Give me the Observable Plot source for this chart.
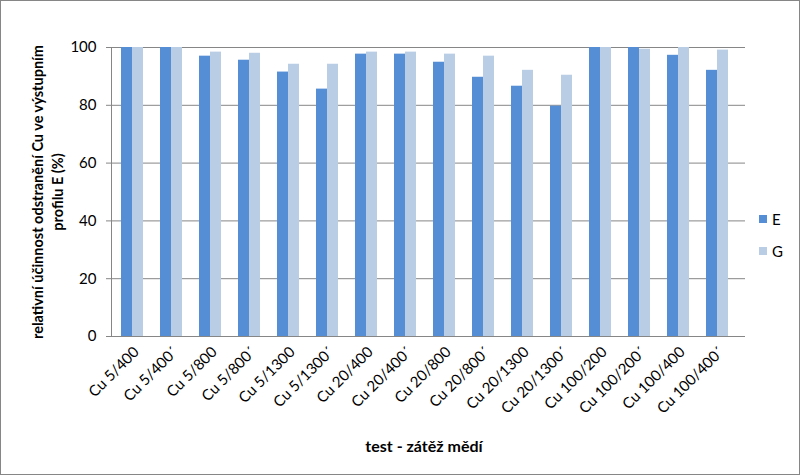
<!DOCTYPE html>
<html><head><meta charset="utf-8">
<script src="https://cdn.jsdelivr.net/npm/d3@7"></script>
<script src="https://cdn.jsdelivr.net/npm/@observablehq/plot@0.6"></script>
<style>
body{margin:0;background:#fff;}
#wrap{position:relative;width:800px;height:475px;font-family:Lato,"Open Sans",sans-serif;overflow:hidden;background:#fff}
#border{position:absolute;left:0;top:0;width:800px;height:475px;box-sizing:border-box;border:1px solid #868686;pointer-events:none}
#ytitle{position:absolute;left:-102px;top:172px;width:300px;text-align:center;font-weight:bold;font-size:14.5px;line-height:20px;transform:rotate(-90deg);color:#000}
#xtitle{position:absolute;left:224px;width:400px;top:436px;text-align:center;font-weight:bold;font-size:16px;color:#000}
.leg{position:absolute;left:759px;font-size:15px;color:#000;display:flex;align-items:center;gap:5px}
.sw{width:8px;height:8px;display:inline-block}
</style></head><body>
<div id="wrap">
<div id="chart"></div>
<div id="ytitle">relativní účinnost odstranění Cu ve výstupním<br>profilu E (%)</div>
<div id="xtitle">test - zátěž mědí</div>
<div id="legend"></div>
<div id="border"></div>
</div>
<script>
const categories = ["Cu 5/400","Cu 5/400´","Cu 5/800","Cu 5/800´","Cu 5/1300","Cu 5/1300´","Cu 20/400","Cu 20/400´","Cu 20/800","Cu 20/800´","Cu 20/1300","Cu 20/1300´","Cu 100/200","Cu 100/200´","Cu 100/400","Cu 100/400´"];
const seriesNames = ["E","G"];
const seriesColors = ["#558ED5","#B9CDE5"];
const valuesE = [100,100,97.0,95.6,91.5,85.6,97.7,97.7,94.9,89.7,86.6,79.7,100,100,97.3,92.1];
const valuesG = [100,100,98.4,98.0,94.2,94.2,98.4,98.4,97.7,97.0,92.1,90.4,100,99.4,100,99.1];
const yTicks = [0,20,40,60,80,100];

const rowsE = categories.map((c,i)=>({cat:c, s:"E", v:valuesE[i]}));
const rowsG = categories.map((c,i)=>({cat:c, s:"G", v:valuesG[i]}));

const chart = Plot.plot({
  width: 800, height: 475,
  marginLeft: 111, marginRight: 55, marginTop: 47, marginBottom: 139,
  style: {fontFamily: "Lato, 'Open Sans', sans-serif", background: "transparent"},
  x: {domain: categories, paddingInner: 0.436, paddingOuter: 0.33, align: 0.36, label: null},
  y: {domain: [0,100], label: null},
  marks: [
    Plot.ruleY(yTicks.filter(d=>d>0), {stroke:"#868686", strokeWidth:1}),
    Plot.barY(rowsE, {x:"cat", y:"v", fill: seriesColors[0], insetRight: 11}),
    Plot.barY(rowsG, {x:"cat", y:"v", fill: seriesColors[1], insetLeft: 11}),
    Plot.ruleY([0], {stroke:"#868686", strokeWidth:1}),
    Plot.frame({anchor:"left", stroke:"#868686"}),
    Plot.axisY({ticks: yTicks, tickSize: 5, tickPadding: 10, fontSize: 15, stroke:"#868686", fill:"#000", label: null}),
    Plot.axisX({tickRotate: -45, tickSize: 0, tickPadding: 13, dx: 4, fontSize: 15, fill:"#000", label: null})
  ]
});
document.getElementById("chart").appendChild(chart);

const leg = document.getElementById("legend");
seriesNames.forEach((s,i)=>{
  const d = document.createElement("div");
  d.className = "leg";
  d.style.top = (210 + i*32) + "px";
  d.innerHTML = `<span class="sw" style="background:${seriesColors[i]}"></span><span>${s}</span>`;
  leg.appendChild(d);
});
</script>
</body></html>
